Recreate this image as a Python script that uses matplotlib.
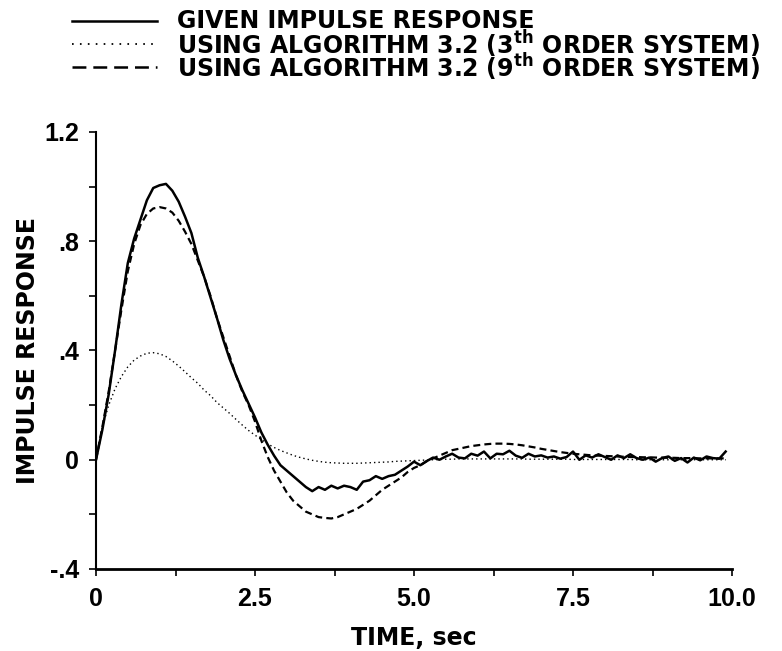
import numpy as np
import matplotlib
matplotlib.use("Agg")
import matplotlib.pyplot as plt
from matplotlib.lines import Line2D
from matplotlib.ticker import FixedLocator, FixedFormatter

plt.rcParams['font.family'] = ['Liberation Sans', 'DejaVu Sans']
plt.rcParams['font.weight'] = 'bold'
plt.rcParams['mathtext.fontset'] = 'custom'
plt.rcParams['mathtext.rm'] = 'DejaVu Sans:bold'
plt.rcParams['mathtext.it'] = 'DejaVu Sans:bold'
plt.rcParams['mathtext.bf'] = 'DejaVu Sans:bold'
plt.rcParams['lines.scale_dashes'] = False

# ---------------- data ----------------
time = np.round(np.arange(0, 100) * 0.1, 2)  # 0.0 .. 9.9 s

given = [
    0.00, 0.11, 0.24, 0.40, 0.57, 0.72, 0.81, 0.88, 0.95, 0.995,
    1.005, 1.01, 0.985, 0.945, 0.89, 0.83, 0.74, 0.67, 0.595, 0.52,
    0.44, 0.37, 0.31, 0.255, 0.205, 0.155, 0.10, 0.055, 0.015, -0.02,
    -0.04, -0.06, -0.08, -0.10, -0.115, -0.10, -0.11, -0.095, -0.105, -0.095,
    -0.10, -0.11, -0.08, -0.075, -0.06, -0.07, -0.06, -0.055, -0.04, -0.025,
    -0.007, -0.02, -0.005, 0.008, 0.0, 0.012, 0.022, 0.008, 0.005, 0.022,
    0.015, 0.03, 0.005, 0.022, 0.02, 0.033, 0.015, 0.007, 0.022, 0.012,
    0.016, 0.008, 0.012, 0.004, 0.01, 0.03, 0.0, 0.016, 0.008, 0.02,
    0.01, 0.0, 0.016, 0.006, 0.02, 0.006, 0.0, 0.008, -0.007, 0.006,
    0.012, -0.004, 0.006, -0.01, 0.008, -0.002, 0.012, 0.006, 0.004, 0.03,
]

order3 = [
    0.00, 0.12, 0.20, 0.26, 0.305, 0.34, 0.365, 0.38, 0.39, 0.392,
    0.388, 0.378, 0.362, 0.343, 0.322, 0.30, 0.28, 0.255, 0.235, 0.21,
    0.19, 0.17, 0.148, 0.127, 0.107, 0.09, 0.074, 0.058, 0.045, 0.034,
    0.025, 0.016, 0.009, 0.003, -0.002, -0.006, -0.009, -0.011, -0.012, -0.013,
    -0.013, -0.013, -0.012, -0.011, -0.010, -0.009, -0.008, -0.006, -0.005, -0.004,
    -0.003, -0.002, -0.001, 0.0, 0.001, 0.002, 0.002, 0.003, 0.003, 0.003,
    0.003, 0.003, 0.003, 0.003, 0.003, 0.003, 0.003, 0.003, 0.002, 0.002,
    0.002, 0.002, 0.002, 0.002, 0.002, 0.001, 0.001, 0.001, 0.001, 0.001,
    0.001, 0.001, 0.001, 0.001, 0.001, 0.0, 0.0, 0.0, 0.0, 0.0,
    0.0, 0.0, 0.0, 0.0, 0.0, 0.0, 0.0, 0.0, 0.0, 0.0,
]

order9 = [
    0.00, 0.12, 0.25, 0.40, 0.55, 0.69, 0.79, 0.86, 0.90, 0.92,
    0.925, 0.92, 0.905, 0.875, 0.835, 0.79, 0.73, 0.67, 0.60, 0.52,
    0.45, 0.38, 0.31, 0.25, 0.20, 0.14, 0.07, 0.01, -0.04, -0.08,
    -0.12, -0.15, -0.17, -0.19, -0.20, -0.21, -0.213, -0.215, -0.21, -0.20,
    -0.19, -0.18, -0.165, -0.15, -0.13, -0.11, -0.095, -0.08, -0.065, -0.045,
    -0.03, -0.02, -0.005, 0.005, 0.015, 0.025, 0.035, 0.04, 0.045, 0.05,
    0.053, 0.056, 0.058, 0.059, 0.059, 0.058, 0.056, 0.053, 0.049, 0.045,
    0.04, 0.036, 0.032, 0.028, 0.025, 0.022, 0.02, 0.018, 0.016, 0.015,
    0.014, 0.013, 0.012, 0.011, 0.010, 0.010, 0.009, 0.009, 0.008, 0.008,
    0.007, 0.007, 0.006, 0.006, 0.006, 0.005, 0.005, 0.005, 0.005, 0.005,
]

labels = [
    "GIVEN IMPULSE RESPONSE",
    r"USING ALGORITHM 3.2 (3$^{\mathrm{th}}$ ORDER SYSTEM)",
    r"USING ALGORITHM 3.2 (9$^{\mathrm{th}}$ ORDER SYSTEM)",
]

x_ticks = [0, 1.25, 2.5, 3.75, 5.0, 6.25, 7.5, 8.75, 10.0]
x_ticklabels = ["0", "", "2.5", "", "5.0", "", "7.5", "", "10.0"]
y_ticks = [-0.4, -0.2, 0.0, 0.2, 0.4, 0.6, 0.8, 1.0, 1.2]
y_ticklabels = ["-.4", "", "0", "", ".4", "", ".8", "", "1.2"]

# ---------------- figure ----------------
W, H = 782, 651
fig = plt.figure(figsize=(W / 100, H / 100), dpi=100)
ax = fig.add_axes([96 / W, 1 - 569 / H, (732 - 96) / W, (569 - 132) / H])

ax.plot(time, order3, color='black', lw=1.0, dashes=(1.0, 2.2))
ax.plot(time, order9, color='black', lw=1.6, dashes=(5, 3))
ax.plot(time, given, color='black', lw=1.8, solid_joinstyle='round')

ax.set_xlim(0, 10)
ax.set_ylim(-0.4, 1.2)
for s in ['top', 'right']:
    ax.spines[s].set_visible(False)
ax.spines['left'].set_linewidth(1.5)
ax.spines['bottom'].set_linewidth(2.0)

ax.xaxis.set_major_locator(FixedLocator(x_ticks))
ax.xaxis.set_major_formatter(FixedFormatter(x_ticklabels))
ax.yaxis.set_major_locator(FixedLocator(y_ticks))
ax.yaxis.set_major_formatter(FixedFormatter(y_ticklabels))
ax.tick_params(axis='both', direction='out', length=5, width=1.2, labelsize=18)
ax.tick_params(axis='x', pad=8)
ax.tick_params(axis='y', pad=7)
for t in ax.get_xticklabels() + ax.get_yticklabels():
    t.set_fontweight('bold')

lab_font = ['DejaVu Sans']
ax.set_xlabel("TIME, sec", fontsize=17, fontweight='bold', family=lab_font, labelpad=11)
ax.set_ylabel("IMPULSE RESPONSE", fontsize=17, fontweight='bold', family=lab_font, labelpad=3)

# ---------------- legend (drawn at top of figure) ----------------
styles = [dict(lw=1.8), dict(lw=1.3, dashes=(1.2, 4.5)), dict(lw=1.8, dashes=(10, 5))]
rows_y = [21, 44, 67]
for lab, st, yy in zip(labels, styles, rows_y):
    fy = 1 - yy / H
    fig.add_artist(Line2D([72 / W, 157 / W], [fy, fy], color='black',
                          transform=fig.transFigure, **st))
    fig.text(177 / W, fy, lab, fontsize=17, fontweight='bold', family=lab_font,
             va='center', ha='left')

fig.savefig("out.png", dpi=100)
